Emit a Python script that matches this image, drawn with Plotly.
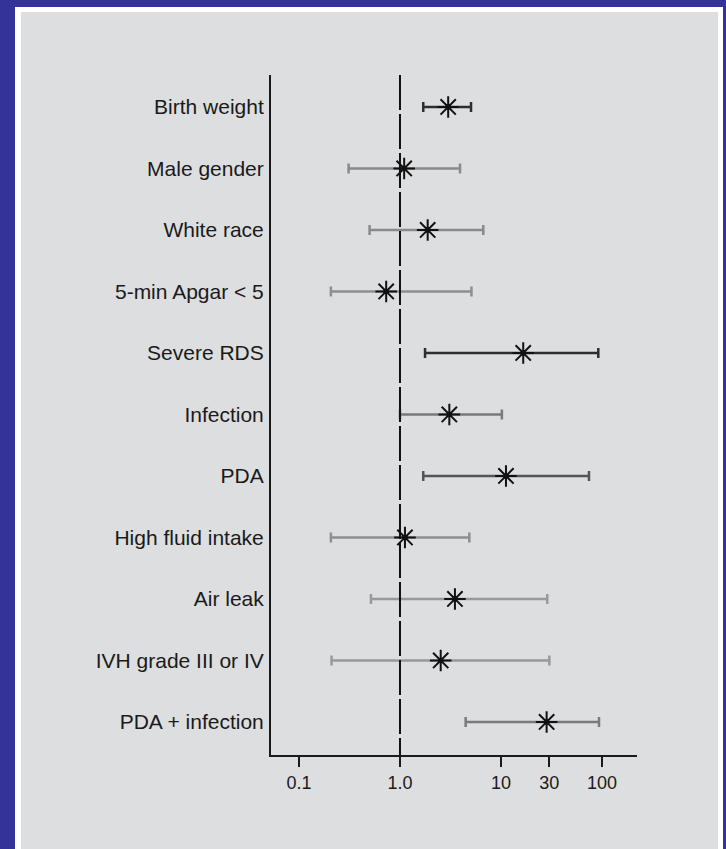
import plotly.graph_objects as go

# Risk factors (top to bottom) with odds ratio and 95% CI
factors = [
    "Birth weight", "Male gender", "White race", "5-min Apgar < 5",
    "Severe RDS", "Infection", "PDA", "High fluid intake",
    "Air leak", "IVH grade III or IV", "PDA + infection",
]
odds_ratio = [3.0, 1.1, 1.88, 0.73, 16.6, 3.08, 11.2, 1.12, 3.5, 2.53, 28.3]
ci_lower = [1.70, 0.31, 0.50, 0.207, 1.77, 1.0, 1.70, 0.207, 0.516, 0.21, 4.47]
ci_upper = [5.05, 3.93, 6.68, 5.1, 91.9, 10.2, 74.3, 4.86, 28.7, 30.1, 93.4]
bar_colors = ["#2e2e2e", "#8a8a8a", "#8a8a8a", "#8f8f8f", "#2e2e2e", "#7a7a7a",
              "#555555", "#8f8f8f", "#999999", "#999999", "#7a7a7a"]

x_tickvals = [0.1, 1, 10, 30, 100]
x_ticktext = ["0.1", "1.0", "10", "30", "100"]

W, H = 726, 849
ML, MR, MT, MB = 271, 89, 75, 94
PW, PH = W - ML - MR, H - MT - MB


def px_x(p):
    return (p - ML) / PW


def px_y(p):
    return (H - MB - p) / PH


fig = go.Figure()

for i, name in enumerate(factors):
    fig.add_trace(go.Scatter(
        x=[odds_ratio[i]], y=[i], mode="markers",
        marker=dict(symbol="asterisk-open", size=18, color="#111111",
                    line=dict(width=2, color="#111111")),
        error_x=dict(type="data", symmetric=False,
                     array=[ci_upper[i] - odds_ratio[i]],
                     arrayminus=[odds_ratio[i] - ci_lower[i]],
                     color=bar_colors[i], thickness=2.5, width=5),
        showlegend=False, hoverinfo="skip", name=name,
    ))
    fig.add_trace(go.Scatter(
        x=[odds_ratio[i]], y=[i], mode="markers",
        marker=dict(symbol="square", size=5, color="#111111"),
        showlegend=False, hoverinfo="skip",
    ))

shapes = [
    # white frame and grey panel behind the chart
    dict(type="rect", xref="paper", yref="paper", layer="below",
         x0=px_x(15), x1=px_x(723), y0=px_y(7), y1=px_y(860),
         fillcolor="#ffffff", line=dict(width=0)),
    dict(type="rect", xref="paper", yref="paper", layer="below",
         x0=px_x(21), x1=px_x(718), y0=px_y(12), y1=px_y(860),
         fillcolor="#dddee0", line=dict(width=0)),
    # reference line at OR = 1
    dict(type="line", xref="x", yref="paper", layer="above",
         x0=1, x1=1, y0=1, y1=0,
         line=dict(color="#111111", width=2, dash="35px,4px")),
]

fig.update_layout(
    width=W, height=H,
    margin=dict(l=ML, r=MR, t=MT, b=MB, pad=0),
    paper_bgcolor="#333399",
    plot_bgcolor="#dddee0",
    shapes=shapes,
    font=dict(family="Liberation Sans, Arial, sans-serif", color="#1a1a1a"),
    xaxis=dict(
        type="log", range=[-1.277, 2.3465],
        tickvals=x_tickvals, ticktext=x_ticktext,
        ticks="outside", ticklen=10, tickwidth=2, tickcolor="#1a1a1a",
        showline=True, linewidth=2, linecolor="#1a1a1a",
        showgrid=False, zeroline=False,
        tickfont=dict(size=18, color="#1a1a1a"),
    ),
    yaxis=dict(
        range=[10.537, -0.52],
        tickvals=list(range(len(factors))), ticktext=factors,
        ticks="", showline=True, linewidth=2, linecolor="#1a1a1a",
        showgrid=False, zeroline=False,
        tickfont=dict(size=21, color="#1a1a1a"),
        ticklabelstandoff=1,
    ),
)

fig.write_html("out.html")
